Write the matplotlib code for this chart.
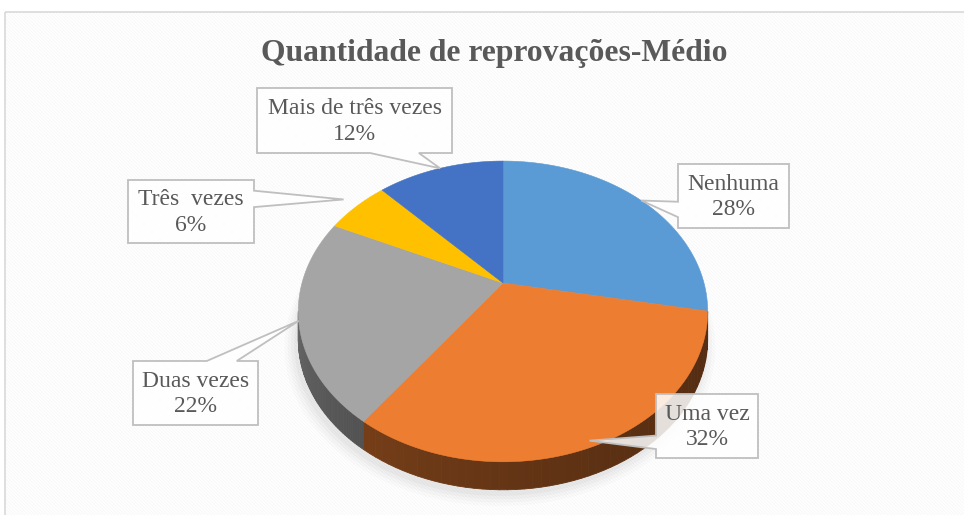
import numpy as np
import matplotlib.pyplot as plt
from matplotlib.patches import Polygon, Rectangle

plt.rcParams['hatch.linewidth'] = 0.5

# data
labels = ['Nenhuma', 'Uma vez', 'Duas vezes', 'Três  vezes', 'Mais de três vezes']
values = [28, 32, 22, 6, 12]
colors = ['#5B9BD5', '#ED7D31', '#A5A5A5', '#FFC000', '#4472C4']
title = 'Quantidade de reprovações-Médio'

# label boxes (x0, y0, w, h) in pixels, pointer edge and base fractions
boxes = [(678, 164, 111, 64, 'left', 0.59, 0.83),
         (656, 394, 102, 64, 'left', 0.65, 0.86),
         (133, 361, 125, 64, 'top', 0.59, 0.83),
         (128, 180, 126, 63, 'right', 0.17, 0.43),
         (257, 88, 195, 65, 'bottom', 0.58, 0.83)]
tip_r = [1.0, 0.97, 1.0, 1.1, 1.0]

# pie geometry (pixels), simple perspective
cx, cy = 503, 283
B, A, k = 201, 145, 0.189
depth = 28


def proj(theta, r=1.0):
    u = r * np.sin(theta)
    v = r * np.cos(theta)
    d = 1 + k * v
    return cx + B * u / d, cy - A * v / d


fig = plt.figure(figsize=(9.64, 5.15), dpi=100)
ax = fig.add_axes([0, 0, 1, 1])
ax.set_xlim(0, 964)
ax.set_ylim(515, 0)
ax.axis('off')

# background
ax.add_patch(Rectangle((5, 12), 980, 520, facecolor='white', edgecolor='#F6F6F6',
                       hatch='\\' * 10, linewidth=0, zorder=0))
ax.add_patch(Rectangle((5, 12), 980, 520, facecolor='none', edgecolor='#D9D9D9',
                       linewidth=1.2, zorder=0.5))

total = sum(values)
bounds = np.concatenate([[0], np.cumsum(values)]) / total * 2 * np.pi

# shadow
t = np.linspace(0, 2 * np.pi, 200)
for s, a in [(1.05, 0.03), (1.035, 0.04), (1.02, 0.05), (1.005, 0.06)]:
    x, y = proj(t, s)
    ax.fill(x - 3, y + depth + 5, color='#808080', alpha=a, lw=0, zorder=1)

# sides
th_r = np.arccos(-k)
th_l = 2 * np.pi - th_r


def shade(th):
    f = (th - th_r) / (th_l - th_r)
    return 0.36 + 0.26 * f ** 2


for i, c in enumerate(colors):
    lo = max(bounds[i], th_r)
    hi = min(bounds[i + 1], th_l)
    if lo >= hi:
        continue
    base = np.array(plt.matplotlib.colors.to_rgb(c))
    ts = np.linspace(lo, hi, 60)
    for t0, t1 in zip(ts[:-1], ts[1:]):
        xa, ya = proj(np.array([t0, t1]))
        col = np.clip(base * shade((t0 + t1) / 2), 0, 1)
        pts = [(xa[0], ya[0]), (xa[1], ya[1]), (xa[1], ya[1] + depth), (xa[0], ya[0] + depth)]
        ax.add_patch(Polygon(pts, closed=True, facecolor=col, edgecolor=col, lw=0.6, zorder=2))

# top face
for i, c in enumerate(colors):
    ts = np.linspace(bounds[i], bounds[i + 1], 100)
    x, y = proj(ts)
    pts = [(cx, cy)] + list(zip(x, y))
    ax.add_patch(Polygon(pts, closed=True, facecolor=c, edgecolor=c, lw=0.4, zorder=3))

# callouts
for i, (lab, v) in enumerate(zip(labels, values)):
    x0, y0, w, h, edge, f0, f1 = boxes[i]
    mid = (bounds[i] + bounds[i + 1]) / 2
    tip = proj(mid, tip_r[i])
    x1, y1 = x0 + w, y0 + h
    if edge == 'top':
        pts = [(x0, y0), (x0 + f0 * w, y0), tip, (x0 + f1 * w, y0), (x1, y0), (x1, y1), (x0, y1)]
    elif edge == 'right':
        pts = [(x0, y0), (x1, y0), (x1, y0 + f0 * h), tip, (x1, y0 + f1 * h), (x1, y1), (x0, y1)]
    elif edge == 'bottom':
        pts = [(x0, y0), (x1, y0), (x1, y1), (x0 + f1 * w, y1), tip, (x0 + f0 * w, y1), (x0, y1)]
    else:
        pts = [(x0, y0), (x1, y0), (x1, y1), (x0, y1), (x0, y0 + f1 * h), tip, (x0, y0 + f0 * h)]
    ax.add_patch(Polygon(pts, closed=True, facecolor=(1, 1, 1, 0.85), edgecolor='#BFBFBF',
                         lw=1.3, zorder=5))
    ax.text(x0 + w / 2, y0 + h / 2 + 1, f'{lab}\n{v / total * 100:.0f}%', ha='center', va='center',
            fontsize=17, family='Liberation Serif', color='#595959', linespacing=1.3, zorder=6)

ax.text(494, 53, title, ha='center', va='center', fontsize=22.8, fontweight='bold',
        family='Liberation Serif', color='#595959', zorder=6)

fig.savefig('out.png', dpi=100)
